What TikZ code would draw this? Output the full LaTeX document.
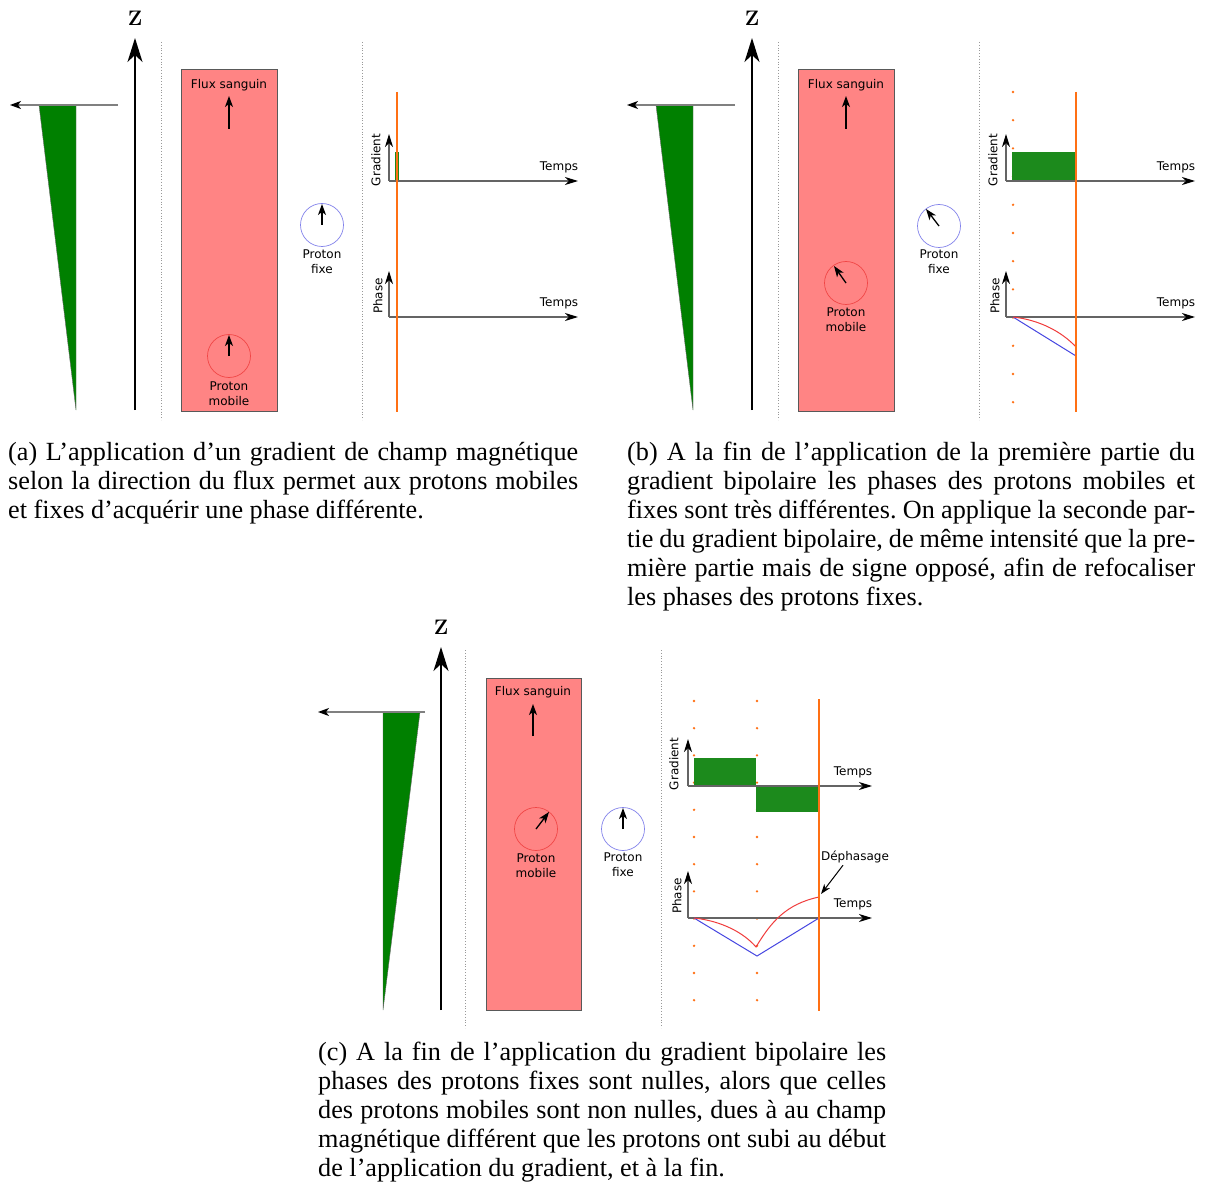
\documentclass[tikz,border=0pt]{standalone}
\usepackage{fontspec}
\newfontfamily\capfont{Liberation Serif}
\newfontfamily\lblfont{DejaVu Sans}
\usetikzlibrary{arrows.meta}
\definecolor{pinkb}{RGB}{255,132,132}
\definecolor{trigreen}{RGB}{0,128,0}
\definecolor{bargreen}{RGB}{28,138,28}
\definecolor{orng}{RGB}{255,112,20}
\definecolor{axgray}{RGB}{100,100,100}
\definecolor{redc}{RGB}{240,60,60}
\definecolor{bluec}{RGB}{70,70,225}
\definecolor{circred}{RGB}{240,70,70}
\definecolor{circblue}{RGB}{130,130,235}
\frenchspacing
\tikzset{
  zaxis/.style={line width=1.6pt, -{Stealth[length=24pt,width=15pt,inset=7pt]}},
  smallarr/.style={line width=1.3pt, -{Stealth[length=11pt,width=8pt,inset=3pt]}},
  axisarr/.style={draw=axgray, line width=1.2pt, -{Stealth[length=13pt,width=8pt,inset=4pt,color=black]}},
  grayarr/.style={draw=gray, line width=1.2pt, -{Stealth[length=11pt,width=8pt,inset=3pt,color=black]}},
  sepline/.style={draw=gray!80, line width=0.8pt, dotted},
  vessel/.style={fill=pinkb, draw=black!65, line width=1pt},
  tri/.style={fill=trigreen, draw=black!60, line width=0.4pt},
  lab/.style={inner sep=0pt, font=\lblfont\fontsize{12}{15}\selectfont},
  zlab/.style={inner sep=0pt, font=\bfseries\fontsize{21}{21}\selectfont},
  caption/.style={inner sep=0pt, anchor=base west, font=\capfont\fontsize{26.2}{29}\selectfont},
  orangeline/.style={draw=orng, line width=2pt},
  gbar/.style={fill=bargreen},
  odot/.style={fill=orng},
  mobcirc/.style={draw=circred, line width=0.7pt},
  fixcirc/.style={draw=circblue, line width=0.7pt},
  redcurve/.style={draw=redc, line width=1pt},
  bluecurve/.style={draw=bluec, line width=1pt},
}
\newcommand\abpanel[1]{%
  \fill[tri] (39,105) -- (76,105) -- (76,410) -- cycle;
  \draw[grayarr] (118,105) -- (10,105);
  \draw[zaxis] (135,410) -- (135,38);
  \node[zlab] (z#1) at (135,18) {Z};
  \draw[sepline] (161,42) -- (161,420);
  \draw[sepline] (362,42) -- (362,420);
  \draw[vessel] (181,70) rectangle (277,411);
  \node[lab] (flux#1) at (229,85) {Flux sanguin};
  \draw[smallarr] (229,129) -- (229,96);
  \node[lab, rotate=90] (grad#1) at (376,160) {Gradient};
  \node[lab, rotate=90] (phase#1) at (378,296) {Phase};
  \node[lab] (tg#1) at (559,167) {Temps};
  \node[lab] (tp#1) at (559,303) {Temps};
}
\newcommand\abaxes{%
  \draw[axisarr] (389,181) -- (389,134);
  \draw[axisarr] (389,181) -- (578,181);
  \draw[axisarr] (389,317) -- (389,271);
  \draw[axisarr] (389,317) -- (578,317);
}
\begin{document}
\begin{tikzpicture}[x=1pt,y=-1pt]
\useasboundingbox (0,0) rectangle (1205,1182);
\fill[white] (0,0) rectangle (1205,1182);

% ---------------- panel (a)
\abpanel{a}
\fill[gbar] (395,152) rectangle (399,181);
\abaxes
\draw[orangeline] (397,92) -- (397,412);
\draw[mobcirc] (229,356) circle (21.5);
\draw[smallarr] (229,356) -- (229,335);
\node[lab, align=center] (mobla) at (229,394) {Proton\\mobile};
\draw[fixcirc] (322,225) circle (21.5);
\draw[smallarr] (322,225) -- (322,204);
\node[lab, align=center] (fixla) at (322,262) {Proton\\fixe};

% ---------------- panel (b)
\begin{scope}[shift={(617,0)}]
\abpanel{b}
\foreach \i in {0,...,11} \fill[odot] (396,92+28.2*\i) circle (1.3);
\fill[gbar] (395,152) rectangle (459,181);
\abaxes
\draw[bluecurve] (396,317) -- (459,356);
\draw[redcurve] (396,317) .. controls (423,320) and (445,332) .. (459,347);
\draw[orangeline] (459,92) -- (459,412);
\end{scope}
\draw[mobcirc] (846,283) circle (21.5);
\draw[smallarr] (846,283) -- (834,266);
\node[lab, align=center] (moblb) at (846,320) {Proton\\mobile};
\draw[fixcirc] (939,226) circle (21.5);
\draw[smallarr] (939,226) -- (926,209);
\node[lab, align=center] (fixlb) at (939,262) {Proton\\fixe};

% ---------------- panel (c)
\fill[tri] (383,712) -- (420,712) -- (383,1010) -- cycle;
\draw[grayarr] (425,712) -- (318,712);
\draw[zaxis] (441,1010) -- (441,647);
\node[zlab] (zc) at (441,627) {Z};
\draw[sepline] (465,650) -- (465,1028);
\draw[sepline] (661,650) -- (661,1028);
\draw[vessel] (486,678) rectangle (581,1010);
\node[lab] (fluxc) at (533,692) {Flux sanguin};
\draw[smallarr] (533,736) -- (533,704);
\draw[mobcirc] (536,829) circle (21.5);
\draw[smallarr] (536,829) -- (549,812);
\node[lab, align=center] (moblc) at (536,866) {Proton\\mobile};
\draw[fixcirc] (623,829) circle (21.5);
\draw[smallarr] (623,829) -- (623,808);
\node[lab, align=center] (fixlc) at (623,865) {Proton\\fixe};

\foreach \i in {0,...,11} {
  \fill[odot] (694,701+27.2*\i) circle (1.3);
  \fill[odot] (757,701+27.2*\i) circle (1.3);
}
\fill[gbar] (694,758) rectangle (756,786);
\fill[gbar] (756,786) rectangle (819,812);
\draw[axisarr] (688,786) -- (688,739);
\draw[axisarr] (688,786) -- (872,786);
\draw[axisarr] (688,918) -- (688,871);
\draw[axisarr] (688,918) -- (872,918);
\node[lab, rotate=90] (gradc) at (674,764) {Gradient};
\node[lab, rotate=90] (phasec) at (677,896) {Phase};
\node[lab] (tgc) at (853,772) {Temps};
\node[lab] (tpc) at (853,904) {Temps};
\draw[bluecurve] (694,918) -- (757,956) -- (819,918);
\draw[redcurve] (694,918) .. controls (722,921) and (744,933) .. (756,947)
   .. controls (771,922) and (786,904) .. (819,897);
\draw[orangeline] (819,699) -- (819,1011);
\node[lab] (deph) at (855,857) {Déphasage};
\coordinate (dephtip) at (821,894);
\draw[line width=1pt, -{Stealth[length=10pt,width=7pt,inset=3pt]}] (deph.south) ++(-12,2) -- (dephtip);

% ---------------- captions
\node[caption] (ca1) at (8,460) {\makebox[570pt][s]{(a) L’application d’un gradient de champ magnétique}};
\node[caption] (ca2) at (8,489) {\makebox[570pt][s]{selon la direction du flux permet aux protons mobiles}};
\node[caption] (ca3) at (8,518) {et fixes d’acquérir une phase différente.};

\node[caption] (cb1) at (627,460) {\makebox[568pt][s]{(b) A la fin de l’application de la première partie du}};
\node[caption] (cb2) at (627,489) {\makebox[568pt][s]{gradient bipolaire les phases des protons mobiles et}};
\node[caption] (cb3) at (627,518) {\makebox[568pt][s]{fixes sont très différentes. On applique la seconde par-}};
\node[caption] (cb4) at (627,547) {\makebox[568pt][s]{tie du gradient bipolaire, de même intensité que la pre-}};
\node[caption] (cb5) at (627,576) {\makebox[568pt][s]{mière partie mais de signe opposé, afin de refocaliser}};
\node[caption] (cb6) at (627,605) {les phases des protons fixes.};

\node[caption] (cc1) at (318,1060) {\makebox[568pt][s]{(c) A la fin de l’application du gradient bipolaire les}};
\node[caption] (cc2) at (318,1089) {\makebox[568pt][s]{phases des protons fixes sont nulles, alors que celles}};
\node[caption] (cc3) at (318,1118) {\makebox[568pt][s]{des protons mobiles sont non nulles, dues à au champ}};
\node[caption] (cc4) at (318,1147) {\makebox[568pt][s]{magnétique différent que les protons ont subi au début}};
\node[caption] (cc5) at (318,1176) {de l’application du gradient, et à la fin.};
\end{tikzpicture}
\end{document}
